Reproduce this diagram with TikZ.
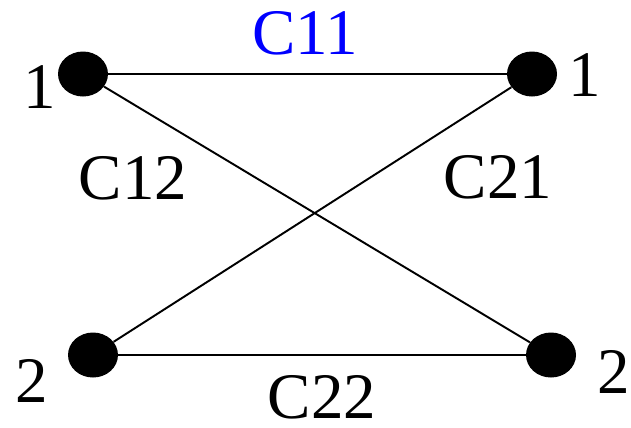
\documentclass[tikz,border=0pt]{standalone}
\usepackage{fontspec}
\setmainfont{Liberation Serif}
\usetikzlibrary{shapes.geometric}

\begin{document}
\begin{tikzpicture}[x=0.02cm, y=-0.02cm]
            % --- PARAMETRY ---
            \pgfmathsetmacro{\topY}{74}        % Wysokość górnej pary kropek
            \pgfmathsetmacro{\botY}{355}       % Wysokość dolnej pary kropek
            \definecolor{labelBlue}{HTML}{0000FF} % Kolor etykiety C11

            \tikzset{
                dot/.style={ellipse, fill=black, inner sep=0pt, minimum width=1cm, minimum height=0.9cm},
                lbl/.style={inner sep=0pt, font=\fontsize{37}{39}\selectfont},
                edge/.style={line width=1.1pt}
            }

            \useasboundingbox (0,0) rectangle (631,427);

            % Kropki
            \node[dot] (g1) at (83, \topY) {};
            \node[dot] (d1) at (532, \topY) {};
            \node[dot] (g2) at (93, \botY) {};
            \node[dot] (d2) at (551, \botY) {};

            % Połączenia
            \draw[edge] (g1) -- (d1);
            \draw[edge] (g2) -- (d2);
            \draw[edge] (g1) -- (d2);
            \draw[edge] (d1) -- (g2);

            % Numery kropek
            \node[lbl] (n1g) at (40, 87) {1};
            \node[lbl] (n1d) at (585, 75) {1};
            \node[lbl] (n2g) at (32, 381) {2};
            \node[lbl] (n2d) at (614, 372) {2};

            % Etykiety krawędzi
            \node[lbl, text=labelBlue] (c11) at (305, 33) {C11};
            \node[lbl] (c12) at (133, 178) {C12};
            \node[lbl] (c21) at (498, 177) {C21};
            \node[lbl] (c22) at (322, 397) {C22};
        \end{tikzpicture}
\end{document}
